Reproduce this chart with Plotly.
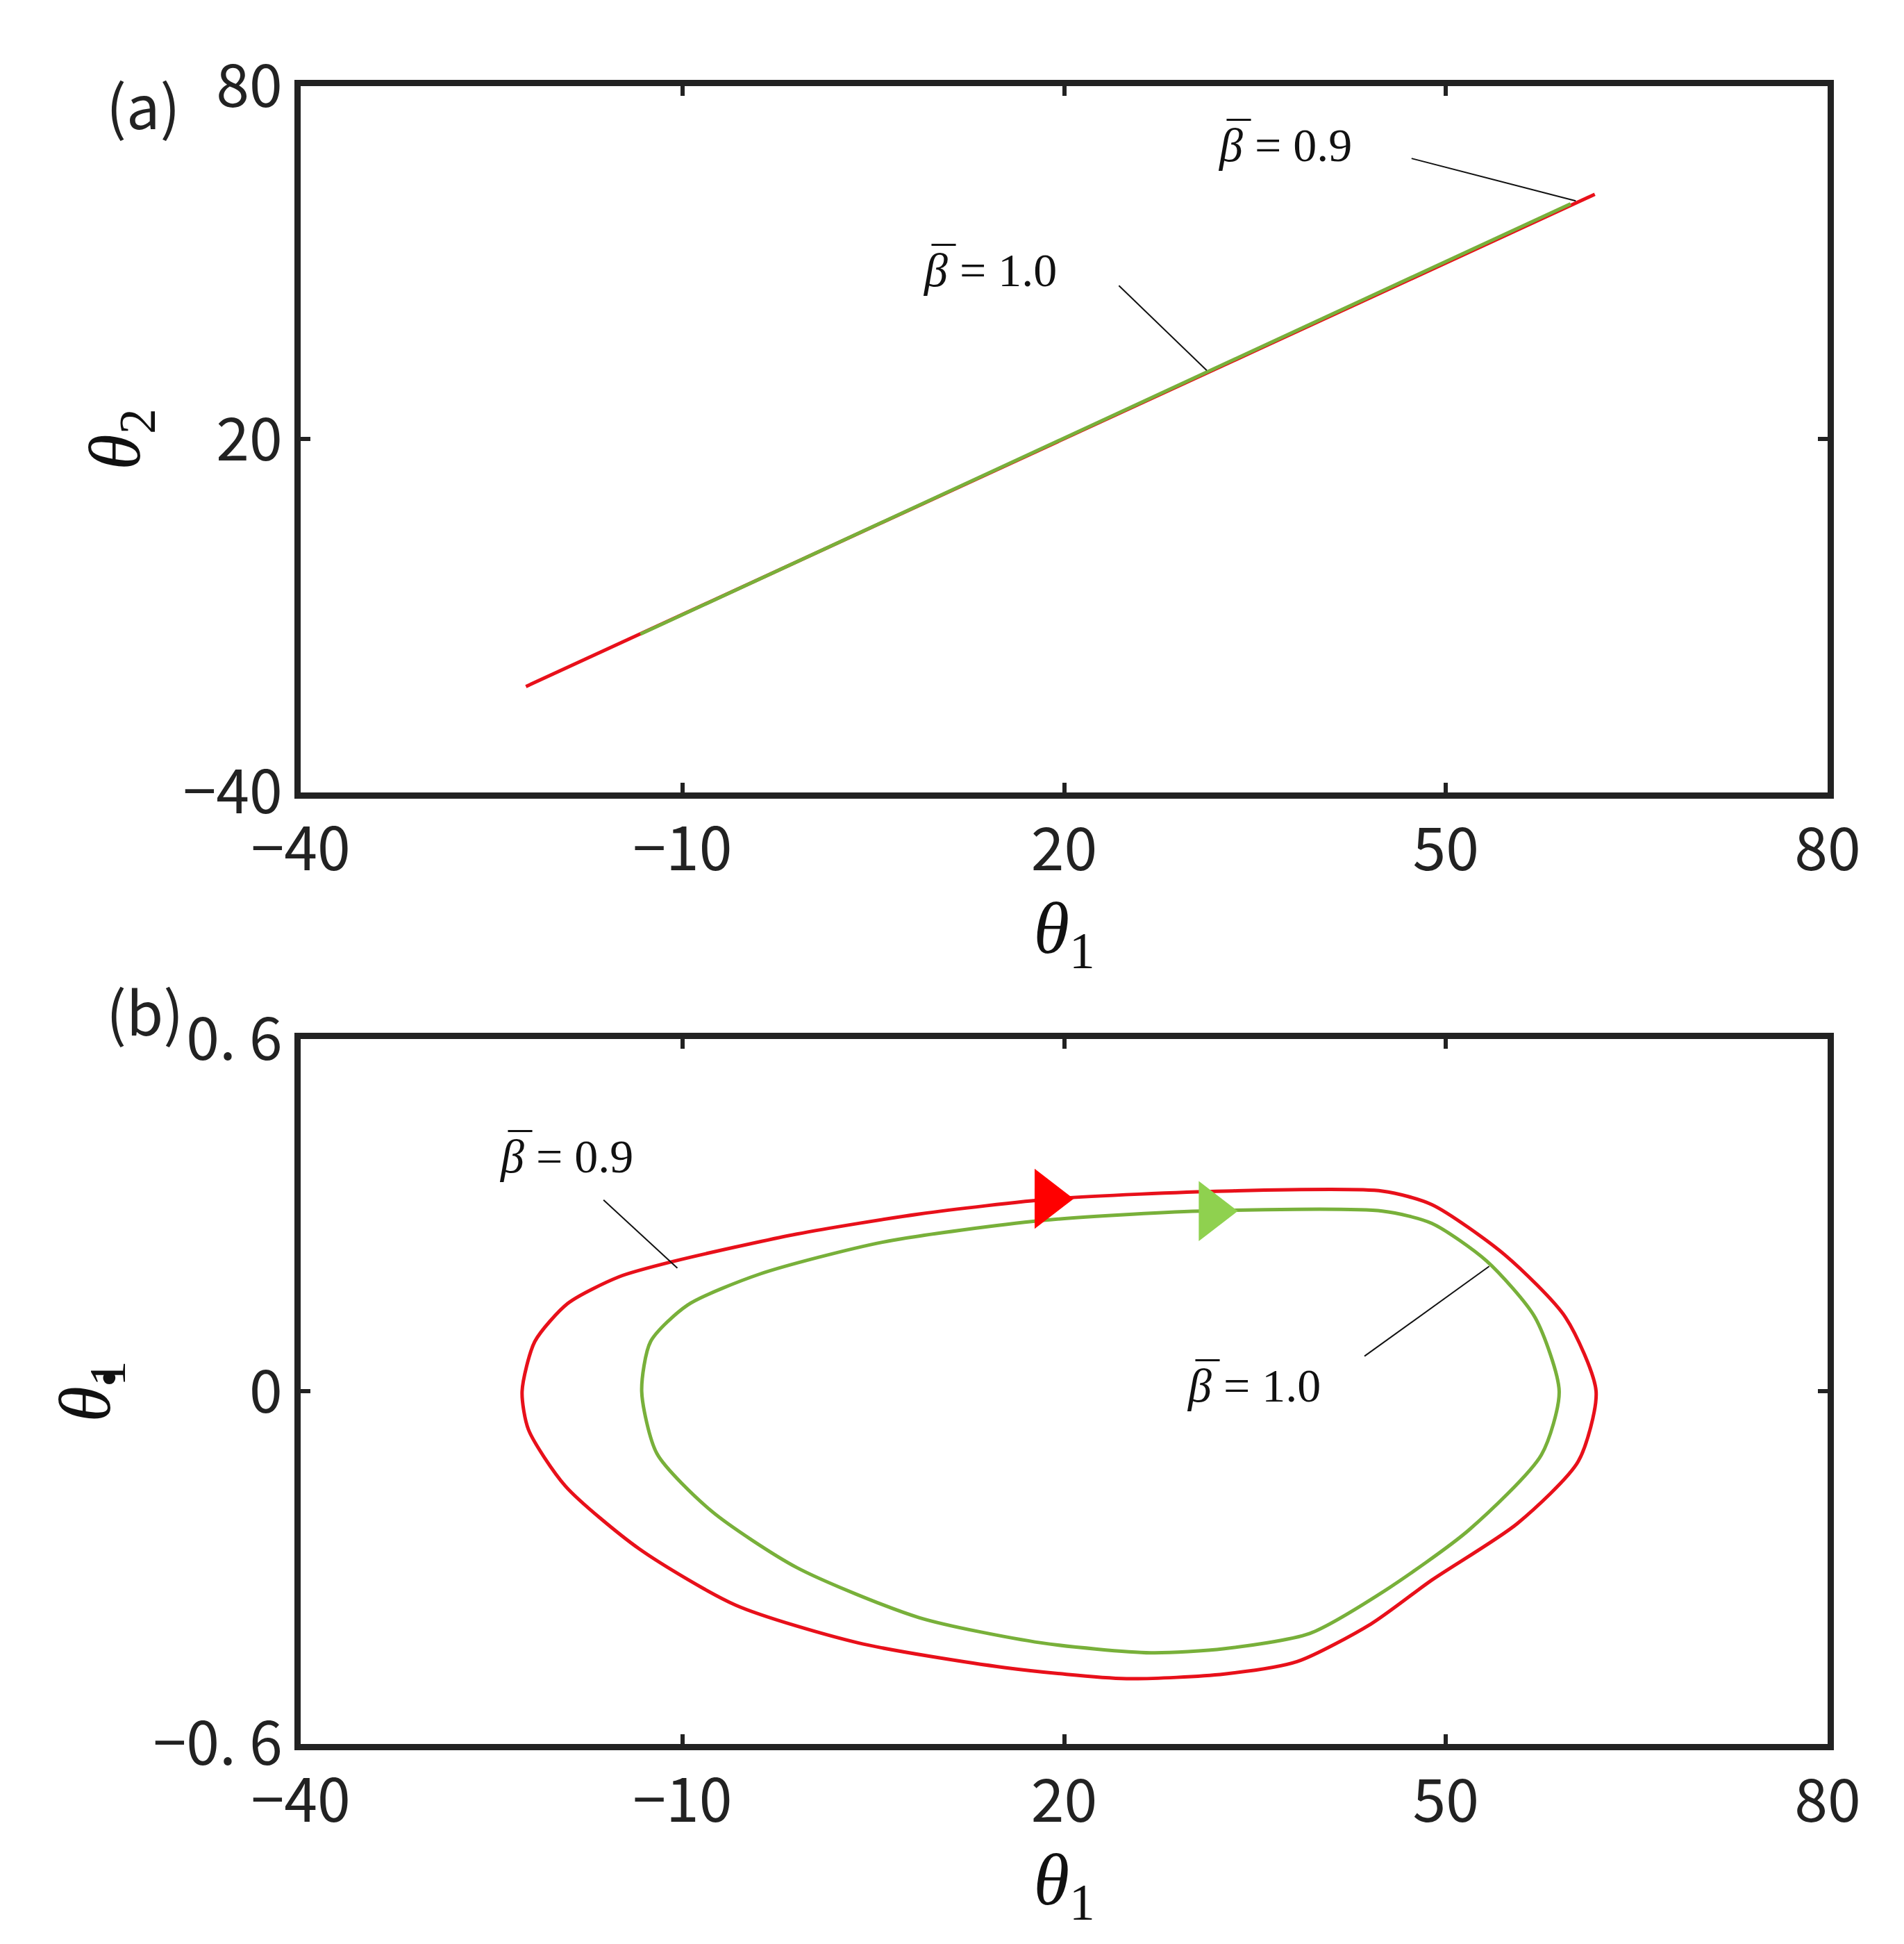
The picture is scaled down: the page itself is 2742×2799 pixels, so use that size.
import plotly.graph_objects as go

# panel (a)
a_red_x = [-22.3, 61.7]
a_red_y = [-22.0, 61.6]
a_grn_x = [-13.3, 59.8]
a_grn_y = [-13.1, 60.0]

# panel (b)
b_red_x = [-22.6, -21.6, -19.0, -15.0, -10.6, -1.0, 8.6, 19.2, 32.6, 45.0, 48.9, 54.6, 59.4, 61.8, 60.4, 55.6, 48.9, 44.1, 38.3, 32.6, 24.9, 15.3, 3.8, -5.8, -13.4, -19.2, -22.1, -22.6]
b_red_y = [0.0, 0.085, 0.15, 0.195, 0.222, 0.268, 0.302, 0.328, 0.341, 0.341, 0.318, 0.233, 0.126, 0.0, -0.119, -0.225, -0.321, -0.396, -0.46, -0.481, -0.489, -0.47, -0.428, -0.364, -0.268, -0.161, -0.065, 0.0]
b_grn_x = [-13.2, -12.5, -9.6, -3.9, 5.7, 18.2, 30.7, 45.0, 48.9, 53.2, 57.0, 58.9, 57.5, 51.8, 45.0, 39.3, 32.6, 26.8, 18.2, 8.6, -1.0, -7.7, -12.0, -13.2]
b_grn_y = [0.0, 0.085, 0.147, 0.2, 0.254, 0.291, 0.307, 0.307, 0.286, 0.222, 0.126, 0.0, -0.108, -0.236, -0.342, -0.412, -0.438, -0.445, -0.428, -0.385, -0.3, -0.204, -0.106, 0.0]
arrow_red = (18.7, 0.328)
arrow_grn = (31.6, 0.307)

x_ticks = [-40, -10, 20, 50, 80]
a_yticks = [-40, 20, 80]
b_yticks = [-0.6, 0, 0.6]
b_ytext = ["\u22120. 6", "0", "0. 6"]

RED = "#e8101a"
GRN = "#78b03a"

fig = go.Figure()
fig.add_trace(go.Scatter(x=a_red_x, y=a_red_y, mode="lines", line=dict(color=RED, width=5), xaxis="x", yaxis="y"))
fig.add_trace(go.Scatter(x=a_grn_x, y=a_grn_y, mode="lines", line=dict(color=GRN, width=5), xaxis="x", yaxis="y"))
fig.add_trace(go.Scatter(x=b_red_x, y=b_red_y, mode="lines", line=dict(color=RED, width=5, shape="spline", smoothing=0.7), xaxis="x2", yaxis="y2"))
fig.add_trace(go.Scatter(x=b_grn_x, y=b_grn_y, mode="lines", line=dict(color=GRN, width=5, shape="spline", smoothing=0.7), xaxis="x2", yaxis="y2"))
fig.add_trace(go.Scatter(x=[arrow_red[0]], y=[arrow_red[1]], mode="markers", marker=dict(symbol="triangle-right", size=75, color="#ff0000"), xaxis="x2", yaxis="y2"))
fig.add_trace(go.Scatter(x=[arrow_grn[0]], y=[arrow_grn[1]], mode="markers", marker=dict(symbol="triangle-right", size=75, color="#8fd14f"), xaxis="x2", yaxis="y2"))

tickfont = dict(family="Noto Sans CJK SC", size=86, color="#222")
titlefont = dict(family="Liberation Serif", size=105, color="#111")
common = dict(showline=True, linecolor="#222", linewidth=9, mirror="ticks", ticks="inside",
              ticklen=14, tickwidth=6, tickcolor="#222", showgrid=False, zeroline=False,
              tickfont=tickfont, automargin=False)

fig.update_layout(
    width=2742, height=2799, margin=dict(l=0, r=0, t=0, b=0),
    paper_bgcolor="white", plot_bgcolor="white", showlegend=False,
    xaxis=dict(domain=[0.155, 0.957], range=[-40, 80], tickvals=x_ticks, anchor="y",
               title=dict(text="<i>θ</i><sub>1</sub>", font=titlefont, standoff=20), **common),
    yaxis=dict(domain=[0.5952, 0.9586], range=[-40, 80], tickvals=a_yticks, anchor="x",
               title=dict(text="<i>θ</i><sub>2</sub>", font=titlefont, standoff=30), **common),
    xaxis2=dict(domain=[0.155, 0.957], range=[-40, 80], tickvals=x_ticks, anchor="y2",
                title=dict(text="<i>θ</i><sub>1</sub>", font=titlefont, standoff=20), **common),
    yaxis2=dict(domain=[0.1058, 0.4684], range=[-0.6, 0.6], tickvals=b_yticks, ticktext=b_ytext, anchor="x2",
                title=dict(text="<i>θ</i><sub>1</sub>", font=titlefont, standoff=30), **common),
)

# dot over theta in panel (b) y-title
fig.add_annotation(xref="paper", yref="paper", x=0.047, y=0.2715, text="<b>·</b>", showarrow=False,
                   font=dict(family="Liberation Serif", size=110, color="#111"))

lab = dict(family="Liberation Serif", size=68, color="#111")
ann = [
    ("x", "y", 32.0, 70, "<i>β</i> = 0.9"),
    ("x", "y", 8.8, 48.7, "<i>β</i> = 1.0"),
    ("x2", "y2", -24.5, 0.40, "<i>β</i> = 0.9"),
    ("x2", "y2", 29.5, 0.01, "<i>β</i> = 1.0"),
]
for xr, yr, x, y, t in ann:
    fig.add_annotation(xref=xr, yref=yr, x=x, y=y, text=t, showarrow=False, font=lab, xanchor="left")
    fig.add_annotation(xref=xr, yref=yr, x=x, y=y, text="¯", showarrow=False, font=lab,
                       xanchor="left", xshift=12, yshift=10)
leaders = [
    ("x", "y", 47.3, 67.7, 60.2, 60.5),
    ("x", "y", 24.3, 46.1, 31.2, 31.7),
    ("x2", "y2", -16.2, 0.326, -10.4, 0.21),
    ("x2", "y2", 43.6, 0.06, 53.4, 0.213),
]
for xr, yr, x0, y0, x1, y1 in leaders:
    fig.add_shape(type="line", xref=xr, yref=yr, x0=x0, y0=y0, x1=x1, y1=y1, line=dict(color="#111", width=2))

pf = dict(family="Noto Sans CJK SC", size=86, color="#222")
fig.add_annotation(xref="paper", yref="paper", x=0.052, y=0.973, text="(a)", showarrow=False, font=pf)
fig.add_annotation(xref="paper", yref="paper", x=0.052, y=0.4835, text="(b)", showarrow=False, font=pf)

fig.write_html("out.html")
